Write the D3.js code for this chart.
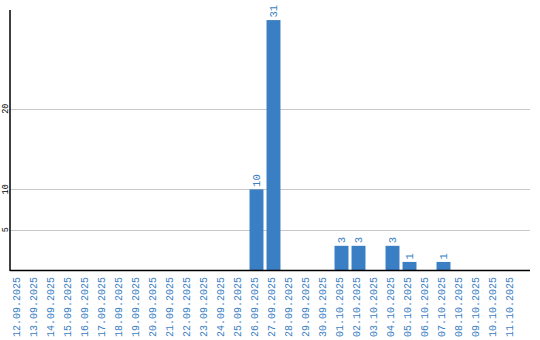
<!DOCTYPE html>
<html>
<head>
<meta charset="utf-8">
<script src="https://cdn.jsdelivr.net/npm/d3@7"></script>
<style>
html,body{margin:0;padding:0;background:#fff;}
svg{display:block;}
</style>
</head>
<body>
<svg id="chart" width="540" height="340"></svg>
<script>
const categories = ["12.09.2025","13.09.2025","14.09.2025","15.09.2025","16.09.2025","17.09.2025","18.09.2025","19.09.2025","20.09.2025","21.09.2025","22.09.2025","23.09.2025","24.09.2025","25.09.2025","26.09.2025","27.09.2025","28.09.2025","29.09.2025","30.09.2025","01.10.2025","02.10.2025","03.10.2025","04.10.2025","05.10.2025","06.10.2025","07.10.2025","08.10.2025","09.10.2025","10.10.2025","11.10.2025"];
const values = [0,0,0,0,0,0,0,0,0,0,0,0,0,0,10,31,0,0,0,3,3,0,3,1,0,1,0,0,0,0];
const yTicks = [5,10,20];

const svg = d3.select("#chart");
const mLeft = 10, mRight = 530, plotRight = 520, mTop = 10, mBottom = 270;
const blue = "#3a7ec4";

const x = d3.scaleBand().domain(categories).range([mLeft, plotRight]).paddingInner(0.18).paddingOuter(0.09);
const y = d3.scaleLinear().domain([0, 32.25]).range([mBottom, mTop]);

// gridlines
svg.append("g").selectAll("line").data(yTicks).join("line")
  .attr("x1", mLeft).attr("x2", mRight)
  .attr("y1", d => Math.round(y(d)) + 0.5).attr("y2", d => Math.round(y(d)) + 0.5)
  .attr("stroke", "#c8c8c8").attr("stroke-width", 1);

// y tick labels
svg.append("g").selectAll("text").data(yTicks).join("text")
  .attr("transform", d => `translate(5,${y(d)}) rotate(-90)`)
  .attr("text-anchor", "middle").attr("dy", "0.35em")
  .attr("font-family", "Liberation Mono, monospace").attr("font-size", 8.5)
  .attr("fill", "#000").text(d => d);

const data = values.map((v,i)=>({c:categories[i], v})).filter(d => d.v > 0);

// bars
svg.append("g").selectAll("rect").data(data).join("rect")
  .attr("x", d => x(d.c)).attr("width", x.bandwidth())
  .attr("y", d => y(d.v)).attr("height", d => mBottom - y(d.v))
  .attr("fill", blue);

// value labels
svg.append("g").selectAll("text").data(data).join("text")
  .attr("transform", d => `translate(${x(d.c) + x.bandwidth()/2},${y(d.v) - 2.5}) rotate(-90)`)
  .attr("text-anchor", "start").attr("dy", "0.35em")
  .attr("font-family", "Liberation Mono, monospace").attr("font-size", 10.5)
  .attr("fill", blue).text(d => d.v);

// axes lines
svg.append("line").attr("x1", mLeft).attr("x2", mLeft).attr("y1", mTop).attr("y2", mBottom + 1)
  .attr("stroke", "#000").attr("stroke-width", 1.5);
svg.append("line").attr("x1", mLeft).attr("x2", mRight).attr("y1", mBottom + 0.5).attr("y2", mBottom + 0.5)
  .attr("stroke", "#000").attr("stroke-width", 1.5);

// x labels
const xAxis = d3.axisBottom(x).tickSize(0).tickPadding(0);
const gx = svg.append("g").attr("transform", `translate(0,${mBottom})`).call(xAxis);
gx.select(".domain").remove();
gx.selectAll("text")
  .attr("transform", "translate(-2,7) rotate(-90)")
  .attr("text-anchor", "end").attr("dy", "0.35em").attr("x", 0).attr("y", 0)
  .attr("font-family", "Liberation Mono, monospace").attr("font-size", 10)
  .attr("fill", blue);
</script>
</body>
</html>
